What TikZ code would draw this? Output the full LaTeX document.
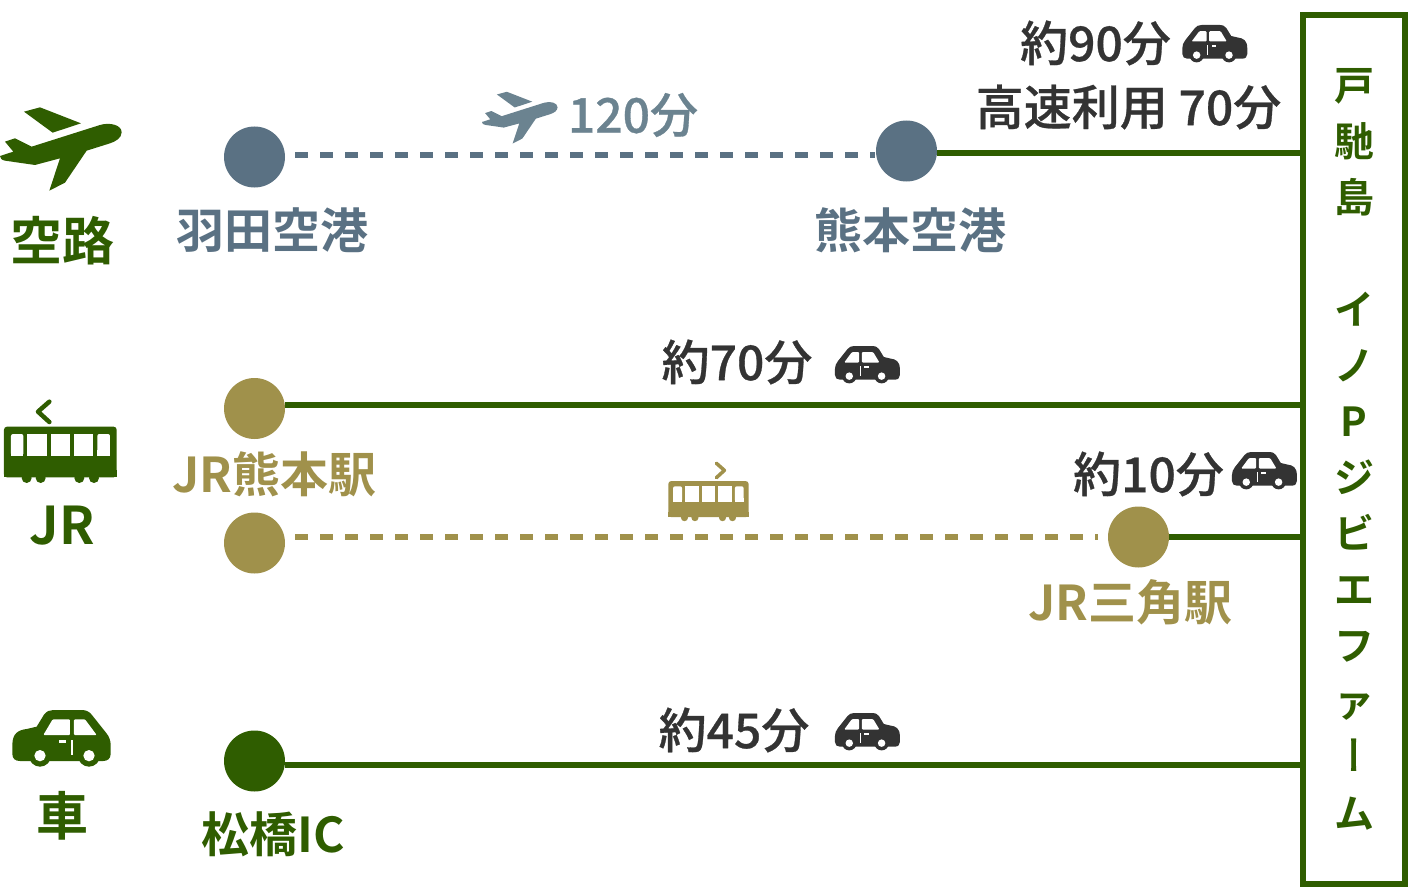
\documentclass[tikz,border=0pt]{standalone}
\usepackage{fontspec}
\setmainfont[RawFeature={embolden=0.6}]{Noto Sans CJK JP Medium}
\newfontfamily\boldjp{Noto Sans CJK JP Bold}
\usetikzlibrary{positioning}
\definecolor{farmgreen}{HTML}{2F5D00}
\definecolor{slatedot}{HTML}{5A7183}
\definecolor{slatetext}{HTML}{6B8390}
\definecolor{tandot}{HTML}{A0914B}
\definecolor{darktext}{HTML}{333333}

\tikzset{
    pics/plane/.style={code={
        \fill[#1] (15,155) -- (45,145) -- (95,170) -- (300,105) .. controls (330,96) and (365,105) .. (365,127)
            .. controls (365,145) and (345,155) .. (330,160) -- (260,182) -- (195,278) -- (148,302) -- (180,205)
            -- (105,225) -- (15,212) .. controls (5,210) and (0,205) .. (0,198) -- (40,185) -- cycle;
        \fill[#1] (72,65) -- (120,52) -- (243,100) -- (158,128) -- cycle;
    }},
    pics/train/.style 2 args={code={
        \fill[#1, rounded corners=3pt] (12,262) -- (12,110) -- (350,110) -- (350,262) -- cycle;
        \fill[#1] (12,240) rectangle (350,262);
        \foreach \wheelx in {80,122,238,282}
            \fill[#1] (\wheelx,264) circle (15);
        \fill[white, rounded corners=2pt] (33,197) -- (33,132) -- (70,132) -- (70,197) -- cycle;
        \fill[white] (33,180) rectangle (70,197);
        \fill[white] (82,132) rectangle (140,197);
        \fill[white] (152,132) rectangle (210,197);
        \fill[white] (222,132) rectangle (280,197);
        \fill[white, rounded corners=2pt] (292,197) -- (292,132) -- (330,132) -- (330,197) -- cycle;
        \fill[white] (292,180) rectangle (330,197);
        \draw[#1, line width=#2, line cap=round, line join=round] (148,35) -- (114,65) -- (148,96);
    }},
    pics/car/.style={code={
        \fill[#1] (37,135) .. controls (37,100) and (55,90) .. (80,87) -- (110,80) -- (132,44)
            .. controls (140,33) and (150,30) .. (160,30) -- (245,30) .. controls (258,30) and (268,35) .. (275,44)
            -- (318,98) .. controls (328,110) and (332,122) .. (332,135) -- (332,162)
            .. controls (332,176) and (322,183) .. (310,183) -- (60,183) .. controls (45,183) and (37,175) .. (37,162) -- cycle;
        \fill[#1] (120,167) circle (33);
        \fill[#1] (267,167) circle (33);
        \fill[white] (120,167) circle (17);
        \fill[white] (267,167) circle (17);
        \fill[white, rounded corners=1pt] (130,105) -- (158,58) -- (210,58) -- (210,105) -- cycle;
        \fill[white, rounded corners=1pt] (222,105) -- (222,58) -- (255,58) -- (290,105) -- cycle;
        \fill[white] (177,120) rectangle (198,130);
        \fill[white] (214,120) rectangle (220,165);
    }},
}

\begin{document}
\begin{tikzpicture}[
        x=1pt, y=-1pt,
        every node/.style={inner sep=0pt, outer sep=0pt},
        airstop/.style={circle, fill=slatedot, minimum size=61pt},
        railstop/.style={circle, fill=tandot, minimum size=61pt},
        roadstop/.style={circle, fill=farmgreen, minimum size=61pt},
        modelabel/.style={text=farmgreen, font=\boldjp\fontsize{52}{56}\selectfont},
        airlabel/.style={text=slatedot, font=\boldjp\fontsize{48}{56}\selectfont},
        raillabel/.style={text=tandot, font=\boldjp\fontsize{48}{56}\selectfont},
        roadlabel/.style={text=farmgreen, font=\boldjp\fontsize{48}{56}\selectfont},
        timelabel/.style={text=darktext, font=\fontsize{48}{56}\selectfont},
        farmbox/.style={draw=farmgreen, line width=6pt, minimum width=102pt, minimum height=869pt, align=center,
            text=farmgreen, font=\boldjp\fontsize{40}{56}\selectfont},
        link/.style={draw=farmgreen, line width=6pt},
        airdash/.style={draw=slatedot, line width=6pt, dash pattern=on 12.5pt off 12.5pt},
        raildash/.style={draw=tandot, line width=6pt, dash pattern=on 12.5pt off 12.5pt}
    ]
    \useasboundingbox (0,0) rectangle (1408,888);

    % Destination
    \node[farmbox] (farm) at (1354,449.5) {戸\\馳\\島\\\mbox{}\\イ\\ノ\\P\\ジ\\ビ\\エ\\フ\\ァ\\\raisebox{9pt}{\hspace{12pt}\rotatebox[origin=c]{90}{\normalfont ー}}\\ム};

    % Air
    \node[airstop] (haneda) at (254.5,157) {};
    \node[airstop] (kumaair) at (906.5,151) {};
    \node[airlabel, below=20pt of haneda, xshift=18pt] (hanedalabel) {羽田空港};
    \node[airlabel, below=26pt of kumaair, xshift=4pt] (kumaairlabel) {熊本空港};
    \draw[airdash] ([xshift=10pt, yshift=2pt]haneda.east) -- ([xshift=-1pt, yshift=-4pt]kumaair.west);
    \draw[link] ([yshift=-2pt]kumaair.east) -- ([yshift=-2pt]kumaair.east -| farm.west);

    % Rail
    \node[railstop] (jrkuma) at (254.5,408.5) {};
    \node[railstop] (jrkumab) at (254.5,543) {};
    \node[railstop] (misumi) at (1138.5,537) {};
    \node[raillabel, below=13pt of jrkuma, xshift=20pt] (jrkumalabel) {JR熊本駅};
    \node[raillabel, below=12pt of misumi, xshift=-8pt] (misumilabel) {JR三角駅};
    \draw[link] ([yshift=3.5pt]jrkuma.east) -- ([yshift=3.5pt]jrkuma.east -| farm.west);
    \draw[raildash] ([xshift=10pt, yshift=6pt]jrkumab.east) -- ([xshift=-10pt]misumi.west);
    \draw[link] (misumi.east) -- (misumi.east -| farm.west);

    % Road
    \node[roadstop] (matsu) at (254.5,761) {};
    \node[roadlabel, below=20pt of matsu, xshift=19pt] (matsulabel) {松橋IC};
    \draw[link] ([yshift=-4pt]matsu.east) -- ([yshift=-4pt]matsu.east -| farm.west);

    % Left column
    \pic[scale=1/3] at (0,90) {plane=farmgreen};
    \node[modelabel] (airmode) at (62,241) {空路};
    \pic[scale=1/3] at (0,390) {train={farmgreen}{4.5pt}};
    \node[modelabel] (railmode) at (62,526) {JR};
    \pic[scale=1/3] at (0,700) {car=farmgreen};
    \node[modelabel] (roadmode) at (62,816) {車};

    % Times
    \pic[scale=0.207] at (482,81) {plane=slatetext};
    \node[text=slatetext, font=\fontsize{48}{56}\selectfont] (airtime) at (633,115) {120分};
    \node[timelabel] (taxitime) at (1095.5,43) {約90分};
    \pic[xscale=-0.22, yscale=0.22] at (1255.4,18.4) {car=darktext};
    \node[timelabel] (bustime) at (1128.5,107) {高速利用 70分};
    \node[timelabel] (jrtime) at (737,362) {約70分};
    \pic[xscale=-0.22, yscale=0.22] at (908,339.4) {car=darktext};
    \pic[xscale=-0.2377, yscale=0.2377] at (751.5,454.9) {train={tandot}{3.5pt}};
    \node[timelabel] (misumitime) at (1148.5,474) {約10分};
    \pic[xscale=-0.22, yscale=0.22] at (1305,445.4) {car=darktext};
    \node[timelabel] (matsutime) at (734,730) {約45分};
    \pic[xscale=-0.22, yscale=0.22] at (908,706.4) {car=darktext};

\end{tikzpicture}
\end{document}
